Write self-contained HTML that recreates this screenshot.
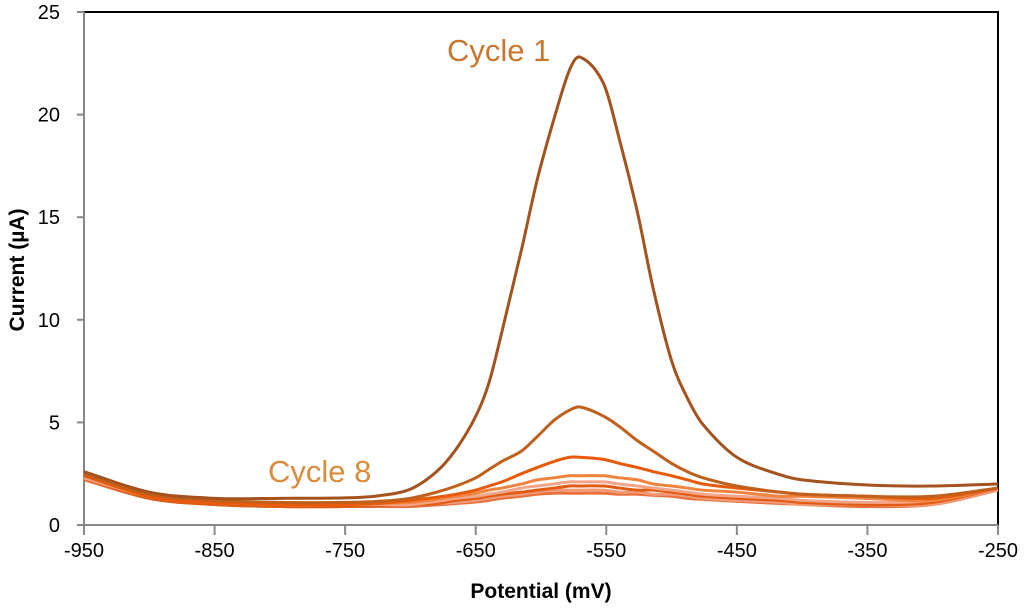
<!DOCTYPE html>
<html><head><meta charset="utf-8"><style>
body{margin:0;background:#fff;}
svg{display:block;font-family:"Liberation Sans",sans-serif;}
</style></head><body>
<svg id="chart" width="1024" height="613"></svg>
<script>
const potentials=[-950,-900,-850,-800,-750,-725,-700,-680,-665,-650,-640,-630,-615,-603,-590,-578,-570,-552,-540,-526,-514,-500,-488,-476,-450,-417,-400,-350,-300,-250];
const cycle1=[2.6,1.6,1.3,1.3,1.32,1.42,1.75,2.6,3.7,5.3,6.9,9.4,13.4,16.8,19.8,22.2,22.8,21.5,18.8,15.2,11.5,8.0,6.2,4.9,3.3,2.45,2.2,1.95,1.9,2.0];
const cycle2=[2.5,1.5,1.2,1.1,1.1,1.15,1.3,1.6,1.9,2.3,2.7,3.1,3.6,4.3,5.1,5.6,5.75,5.3,4.8,4.1,3.6,3.0,2.6,2.3,1.9,1.6,1.5,1.4,1.4,1.8];
const cycle3=[2.4,1.4,1.1,1.0,1.0,1.05,1.2,1.35,1.5,1.7,1.9,2.1,2.5,2.8,3.1,3.3,3.3,3.2,3.0,2.8,2.6,2.4,2.2,2.0,1.8,1.6,1.5,1.4,1.3,1.8];
const cycle4=[2.4,1.4,1.1,1.0,1.0,1.05,1.1,1.25,1.4,1.55,1.7,1.8,2.0,2.2,2.3,2.4,2.4,2.4,2.3,2.2,2.0,1.9,1.8,1.7,1.6,1.4,1.4,1.3,1.2,1.8];
const cycle5=[2.3,1.4,1.1,1.0,1.0,1.0,1.0,1.15,1.3,1.4,1.5,1.6,1.8,1.9,2.0,2.1,2.1,2.1,2.0,1.9,1.8,1.7,1.6,1.5,1.4,1.3,1.2,1.1,1.2,1.8];
const cycle6=[2.3,1.3,1.0,0.9,0.9,0.95,1.0,1.05,1.2,1.3,1.4,1.5,1.6,1.7,1.8,1.9,1.9,1.9,1.8,1.7,1.7,1.6,1.5,1.4,1.3,1.2,1.1,1.0,1.1,1.8];
const cycle7=[2.3,1.3,1.0,0.9,0.9,0.95,1.0,1.05,1.1,1.2,1.3,1.4,1.5,1.6,1.7,1.7,1.7,1.7,1.6,1.6,1.5,1.5,1.4,1.3,1.2,1.1,1.0,1.0,1.0,1.7];
const cycle8=[2.2,1.3,1.0,0.9,0.9,0.9,0.9,0.98,1.05,1.12,1.2,1.3,1.4,1.5,1.55,1.55,1.55,1.55,1.5,1.5,1.45,1.4,1.3,1.25,1.15,1.05,1.0,0.9,1.0,1.7];
const series=[cycle8,cycle7,cycle6,cycle5,cycle4,cycle3,cycle2,cycle1];
const seriesNames=['cycle-8','cycle-7','cycle-6','cycle-5','cycle-4','cycle-3','cycle-2','cycle-1'];
const colors=['#e8703a','#f09a78','#e05c14','#f4a488','#f0843e','#e85a0a','#c0601c','#a4521e'];
const xTicks=[-950,-850,-750,-650,-550,-450,-350,-250];
const yTicks=[0,5,10,15,20,25];

const svg=document.getElementById('chart');
const NS='http://www.w3.org/2000/svg';
const X0=84,X1=998,Y0=525,Y1=12;
const xs=v=>X0+(v+950)/700*(X1-X0);
const ys=v=>Y0-v/25*(Y0-Y1);
function mk(t,a){const e=document.createElementNS(NS,t);for(const k in a)e.setAttribute(k,a[k]);svg.appendChild(e);return e;}
let e;
e=mk('path',{d:`M${X0},${Y1}H${X1}V${Y0}`,fill:'none',stroke:'#000','stroke-width':2});


e=mk('path',{d:`M${X0},${Y1}V${Y0}H${X1}`,fill:'none',stroke:'#888','stroke-width':2});


yTicks.forEach(t=>{
 const y=ys(t);
 e=mk('line',{x1:X0-7,x2:X0,y1:y,y2:y,stroke:'#888','stroke-width':2});
 
 
 e=mk('text',{x:X0-24,y:y+7,'text-anchor':'end','font-size':20,fill:'#000'});e.textContent=t;
 
 
});
xTicks.forEach(t=>{
 const x=xs(t);
 e=mk('line',{x1:x,x2:x,y1:Y0,y2:Y0+10,stroke:'#888','stroke-width':2});
 
 
 e=mk('text',{x:x,y:Y0+32,'text-anchor':'middle','font-size':20,fill:'#000'});e.textContent=t;
 
 
});
series.forEach((s,i)=>{
 const pts=s.map((v,j)=>[xs(potentials[j]),ys(v)]);
 let d='M'+pts[0][0]+','+pts[0][1];
 for(let j=0;j<pts.length-1;j++){
  const p0=pts[j-1]||pts[j],p1=pts[j],p2=pts[j+1],p3=pts[j+2]||p2;
  const h=p2[0]-p1[0];
  const m1=(p2[1]-p0[1])/((p2[0]-p0[0])||1), m2=(p3[1]-p1[1])/((p3[0]-p1[0])||1);
  d+=`C${p1[0]+h/3},${p1[1]+m1*h/3} ${p2[0]-h/3},${p2[1]-m2*h/3} ${p2[0]},${p2[1]}`;
 }
 e=mk('path',{d:d,fill:'none',stroke:colors[i],'stroke-width':3,'stroke-linejoin':'round'});
 
 
});
e=mk('text',{x:447,y:61,'font-size':31,fill:'#c8782e'});e.textContent='Cycle 1';


e=mk('text',{x:268,y:482,'font-size':31,fill:'#d88c3c'});e.textContent='Cycle 8';


e=mk('text',{x:541,y:598,'text-anchor':'middle','font-size':21,'font-weight':'bold',fill:'#000'});e.textContent='Potential (mV)';


e=mk('text',{x:0,y:0,'text-anchor':'middle','font-size':21,'font-weight':'bold',fill:'#000',transform:'translate(24,270) rotate(-90)'});e.textContent='Current (µA)';


</script>
</body></html>
